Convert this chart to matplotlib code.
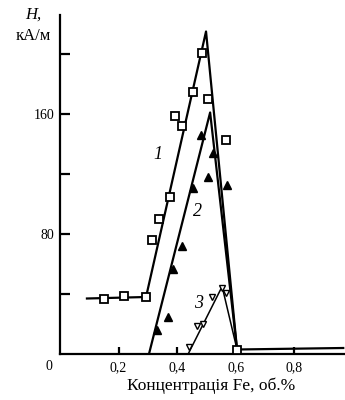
import matplotlib
matplotlib.use("Agg")
import matplotlib.pyplot as plt

# Measured points: H (kA/m) versus Fe concentration (vol.%)
fe_1 = [0.150, 0.219, 0.294, 0.315, 0.338, 0.376, 0.393, 0.417, 0.455, 0.485, 0.506, 0.568, 0.605]
h_1 = [37, 39, 38, 76, 90, 105, 159, 152, 175, 201, 170, 143, 3]

fe_2 = [0.332, 0.369, 0.386, 0.417, 0.455, 0.482, 0.506, 0.523, 0.571]
h_2 = [16, 25, 57, 72, 111, 146, 118, 134, 113]

fe_3 = [0.441, 0.468, 0.489, 0.520, 0.554, 0.568]
h_3 = [5, 19, 20, 38, 44, 41]

# Trend lines drawn through each series
line1_fe = [0.092, 0.294, 0.499, 0.605, 0.968]
line1_h = [37, 38, 215, 3, 4]
line2_fe = [0.304, 0.513, 0.605]
line2_h = [0, 161, 3]
line3_fe = [0.438, 0.554, 0.605]
line3_h = [0, 45, 3]

x_ticks = [0.2, 0.4, 0.6, 0.8]
x_tick_labels = ["0,2", "0,4", "0,6", "0,8"]
y_ticks = [40, 80, 120, 160, 200]
y_tick_labels = ["", "80", "", "160", ""]

serif = ["Liberation Serif", "DejaVu Serif"]
plt.rcParams["font.family"] = serif

fig = plt.figure(figsize=(3.45, 4.0), dpi=100)
ax = fig.add_axes([0.174, 0.115, 0.826, 0.8475])
ax.set_xlim(0, 0.974)
ax.set_ylim(0, 226)

for side in ("top", "right"):
    ax.spines[side].set_visible(False)
for side in ("left", "bottom"):
    ax.spines[side].set_linewidth(1.6)
    ax.spines[side].set_color("black")

ax.plot(line1_fe, line1_h, color="black", lw=1.6, zorder=2)
ax.plot(line2_fe, line2_h, color="black", lw=1.6, zorder=2)
ax.plot(line3_fe, line3_h, color="black", lw=1.1, zorder=2)

ax.plot(fe_1, h_1, ls="none", marker="s", ms=5.5, mfc="white", mec="black", mew=1.3, zorder=3)
ax.plot(fe_2, h_2, ls="none", marker="^", ms=5.5, mfc="black", mec="black", zorder=3)
ax.plot(fe_3, h_3, ls="none", marker="v", ms=4.5, mfc="white", mec="black", mew=1.0, zorder=3)

ax.set_xticks(x_ticks)
ax.set_xticklabels(x_tick_labels)
ax.set_yticks(y_ticks)
ax.set_yticklabels(y_tick_labels)
ax.tick_params(axis="x", direction="in", length=5, width=1.6, labelsize=10, pad=5)
ax.tick_params(axis="y", direction="in", length=7, width=1.6, labelsize=10, pad=4)

ax.text(-0.025, -4, "0", ha="right", va="top", fontsize=10)
ax.set_xlabel("Концентрація Fe, об.%", fontsize=12.5, labelpad=1)
ax.xaxis.set_label_coords(0.53, -0.07)

fig.text(33 / 345, 1 - 15 / 400, "H,", ha="center", va="center", fontsize=12, style="italic")
fig.text(33 / 345, 1 - 36 / 400, "кА/м", ha="center", va="center", fontsize=12)

ax.text(0.335, 133, "1", style="italic", fontsize=13, ha="center", va="center")
ax.text(0.469, 95, "2", style="italic", fontsize=13, ha="center", va="center")
ax.text(0.472, 34, "3", style="italic", fontsize=13, ha="center", va="center")

fig.savefig("out.png", dpi=100)
